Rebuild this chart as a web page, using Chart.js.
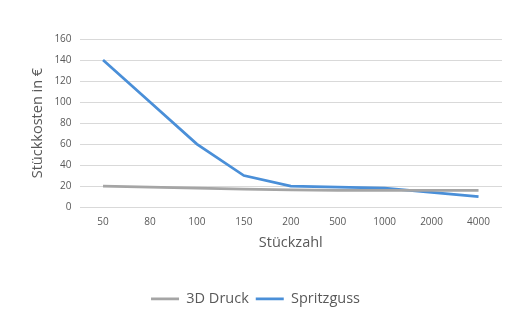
<!DOCTYPE html>
<html>
<head>
<meta charset="utf-8">
<script src="https://cdn.jsdelivr.net/npm/chart.js@4/dist/chart.umd.min.js"></script>
<style>
  html, body { margin: 0; padding: 0; background: #fff; }
  #wrap { width: 509px; height: 312px; }
</style>
</head>
<body>
<div id="wrap"><canvas id="chart" width="509" height="312"></canvas></div>
<script>
// Daten
const stueckzahl = ['50', '80', '100', '150', '200', '500', '1000', '2000', '4000'];
const druck3d = [20, 19, 18, 17, 16.5, 16, 16, 16, 16];
const spritzguss = [140, 100, 60, 30, 20, 19, 18, 14, 10];

const tickFarbe = '#595959';
const schrift = "'Open Sans', 'DejaVu Sans', sans-serif";

// Legende etwas verschieben (wie im Original)
const legendeVerschieben = {
    id: 'legendeVerschieben',
    afterLayout(chart) {
        const lg = chart.legend;
        lg.left -= 10; lg.right -= 10;
        lg.top += 4; lg.bottom += 4;
    }
};

new Chart(document.getElementById('chart').getContext('2d'), {
    type: 'line',
    data: {
        labels: stueckzahl,
        datasets: [
            { label: '3D Druck', data: druck3d, borderColor: '#a5a5a5', backgroundColor: '#a5a5a5', borderWidth: 2.75, pointRadius: 0, tension: 0 },
            { label: 'Spritzguss', data: spritzguss, borderColor: '#4a8fd8', backgroundColor: '#4a8fd8', borderWidth: 2.75, pointRadius: 0, tension: 0 }
        ]
    },
    options: {
        responsive: false,
        animation: false,
        layout: { padding: { top: 39, left: 29, right: 7, bottom: 0 } },
        plugins: {
            tooltip: { enabled: false },
            legend: {
                position: 'bottom',
                labels: {
                    usePointStyle: true,
                    pointStyle: 'line',
                    pointStyleWidth: 28,
                    boxWidth: 28,
                    padding: 7,
                    color: tickFarbe,
                    font: { family: schrift, size: 14.5 }
                }
            }
        },
        scales: {
            x: {
                offset: true,
                grid: { display: false },
                border: { display: false },
                ticks: { color: tickFarbe, font: { family: schrift, size: 10 }, padding: 1, maxRotation: 0 },
                title: { display: true, text: 'Stückzahl', color: tickFarbe, font: { family: schrift, size: 14.5 }, padding: { top: 5, bottom: 29 } }
            },
            y: {
                min: 0, max: 160,
                ticks: { stepSize: 20, color: tickFarbe, font: { family: schrift, size: 10 }, padding: 8 },
                grid: { color: '#d9d9d9', lineWidth: 1, drawTicks: false },
                border: { display: false },
                title: { display: true, text: 'Stückkosten in €', color: tickFarbe, font: { family: schrift, size: 14.5 }, padding: 0 }
            }
        }
    },
    plugins: [legendeVerschieben]
});
</script>
</body>
</html>
